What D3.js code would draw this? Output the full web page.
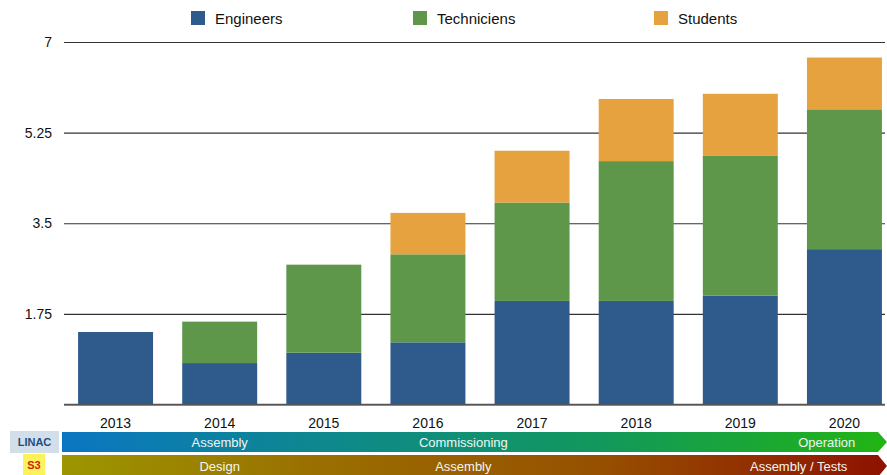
<!DOCTYPE html>
<html>
<head>
<meta charset="utf-8">
<script src="https://cdn.jsdelivr.net/npm/d3@7"></script>
<style>
  html, body { margin: 0; padding: 0; background: #fff; }
  svg { display: block; font-family: "Liberation Sans", Arial, Helvetica, sans-serif; }
</style>
</head>
<body>
<svg id="chart" width="887" height="475"></svg>
<script>
// Staff per year, stacked by category
const years = ["2013", "2014", "2015", "2016", "2017", "2018", "2019", "2020"];
const engineers   = [1.4, 0.8, 1.0, 1.2, 2.0, 2.0, 2.1, 3.0];
const techniciens = [0.0, 0.8, 1.7, 1.7, 1.9, 2.7, 2.7, 2.7];
const students    = [0.0, 0.0, 0.0, 0.8, 1.0, 1.2, 1.2, 1.0];
const seriesNames = ["Engineers", "Techniciens", "Students"];
const seriesColors = ["#2e5a8c", "#5e964a", "#e6a23e"];
const yTicks = [0, 1.75, 3.5, 5.25, 7];

// Project phase timelines shown under the chart
const linacPhases = [
  { label: "Assembly", year: 2014.0 },
  { label: "Commissioning", year: 2016.34 },
  { label: "Operation", year: 2019.83 }
];
const s3Phases = [
  { label: "Design", year: 2014.0 },
  { label: "Assembly", year: 2016.34 },
  { label: "Assembly / Tests", year: 2019.56 }
];

const svg = d3.select("#chart");
const left = 64, right = 885, plotTop = 42, plotBottom = 404.5;

const rows = years.map((y, i) => ({
  year: y,
  Engineers: engineers[i],
  Techniciens: techniciens[i],
  Students: students[i]
}));

const x = d3.scaleBand()
  .domain(years)
  .range([63.5, 896.5])
  .paddingInner(0.28)
  .paddingOuter(0.14);

const y = d3.scaleLinear().domain([0, 7]).range([plotBottom, plotTop]);

const color = d3.scaleOrdinal().domain(seriesNames).range(seriesColors);

// Gridlines and y labels
const yAxis = svg.append("g")
  .attr("transform", `translate(${left},0)`)
  .call(d3.axisLeft(y)
    .tickValues(yTicks)
    .tickSize(-(right - left))
    .tickPadding(12)
    .tickFormat(d => d === 0 ? "" : d3.format("~g")(d)));
yAxis.select(".domain").remove();
yAxis.selectAll(".tick line").attr("stroke", "#333").attr("stroke-width", 1.2);
yAxis.selectAll(".tick text")
  .attr("fill", "#111")
  .style("font-size", "14px")
  .style("font-family", "\"Liberation Sans\", Arial, sans-serif");

// Stacked bars
const stack = d3.stack().keys(seriesNames);
const layers = stack(rows);

svg.append("g")
  .selectAll("g")
  .data(layers)
  .join("g")
  .attr("fill", d => color(d.key))
  .selectAll("rect")
  .data(d => d)
  .join("rect")
  .attr("x", d => x(d.data.year))
  .attr("width", x.bandwidth())
  .attr("y", d => y(d[1]))
  .attr("height", d => y(d[0]) - y(d[1]));

// Baseline drawn over bars
svg.append("line")
  .attr("x1", left).attr("x2", right)
  .attr("y1", y(0)).attr("y2", y(0))
  .attr("stroke", "#555").attr("stroke-width", 1.5);

// Year labels
const xAxis = svg.append("g")
  .attr("transform", `translate(0,${plotBottom})`)
  .call(d3.axisBottom(x).tickSize(0).tickPadding(14));
xAxis.select(".domain").remove();
xAxis.selectAll(".tick text")
  .attr("fill", "#111")
  .style("font-size", "14px")
  .style("font-family", "\"Liberation Sans\", Arial, sans-serif");

// Legend
const legendX = [191, 413, 654];
const legend = svg.append("g");
seriesNames.forEach((name, i) => {
  legend.append("rect")
    .attr("x", legendX[i]).attr("y", 11)
    .attr("width", 14).attr("height", 14)
    .attr("fill", color(name));
  legend.append("text")
    .attr("x", legendX[i] + 24).attr("y", 24)
    .attr("fill", "#111")
    .style("font-size", "15px")
    .text(name);
});

// Timelines
const xYear = d3.scaleLinear()
  .domain([2013, 2020])
  .range([x("2013") + x.bandwidth() / 2, x("2020") + x.bandwidth() / 2]);

const defs = svg.append("defs");
function gradient(id, stops) {
  const g = defs.append("linearGradient")
    .attr("id", id)
    .attr("gradientUnits", "userSpaceOnUse")
    .attr("x1", 62).attr("x2", 887).attr("y1", 0).attr("y2", 0);
  stops.forEach(([o, c]) => g.append("stop").attr("offset", o).attr("stop-color", c));
}
gradient("linacGrad", [[0, "#0a76c2"], [0.3, "#0e8790"], [0.65, "#12985c"], [1, "#22b414"]]);
gradient("s3Grad", [[0, "#9c9600"], [0.3, "#9a7000"], [0.65, "#965000"], [1, "#8e1200"]]);

function timeline(top, h, fill, phases, tagText, tagBox) {
  const x0 = 62, x1 = 878, tip = 887;
  svg.append("path")
    .attr("d", `M${x0},${top}H${x1}L${tip},${top + h / 2}L${x1},${top + h}H${x0}Z`)
    .attr("fill", fill);
  svg.append("g").selectAll("text")
    .data(phases)
    .join("text")
    .attr("x", d => xYear(d.year))
    .attr("y", top + h / 2 + 4.5)
    .attr("text-anchor", "middle")
    .attr("fill", "#f2f6f4")
    .style("font-size", "13px")
    .text(d => d.label);
  svg.append("rect")
    .attr("x", tagBox.x).attr("y", tagBox.y)
    .attr("width", tagBox.w).attr("height", tagBox.h)
    .attr("fill", tagBox.fill);
  svg.append("text")
    .attr("x", tagBox.x + tagBox.w / 2)
    .attr("y", tagBox.y + tagBox.h / 2 + 4)
    .attr("text-anchor", "middle")
    .attr("fill", tagBox.color)
    .style("font-size", "11px")
    .style("font-weight", "bold")
    .text(tagText);
}

timeline(432, 20, "url(#linacGrad)", linacPhases, "LINAC",
  { x: 10, y: 431, w: 49, h: 22, fill: "#d2dfea", color: "#1d4f80" });
timeline(455, 22, "url(#s3Grad)", s3Phases, "S3",
  { x: 23, y: 454, w: 22, h: 21, fill: "#fdf25a", color: "#d21d12" });
</script>
</body>
</html>
